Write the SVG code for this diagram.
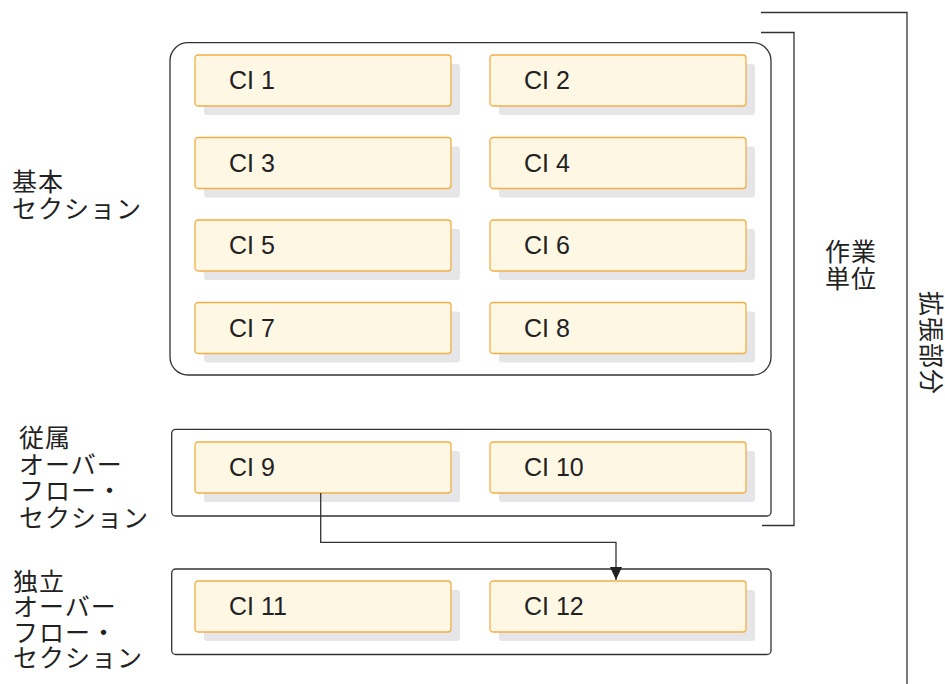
<svg xmlns="http://www.w3.org/2000/svg" width="945" height="684" viewBox="0 0 945 684">
<style>
.shadow{fill:#e6e6e8;}
.ci{fill:#fef7e4;stroke:#f3ae48;stroke-width:1.3;}
.cit{font-family:"Liberation Sans",Arial,sans-serif;font-size:25px;fill:#222;}
.jp{font-family:"Noto Sans CJK JP","Noto Sans CJK SC",sans-serif;font-size:25px;fill:#222;letter-spacing:1px;}
.sec{fill:#fff;stroke:#333;stroke-width:1.3;}
.line{fill:none;stroke:#333;stroke-width:1.3;}
</style>
<defs>
<marker id="arr" viewBox="0 0 13 12" markerWidth="13" markerHeight="12" refX="13" refY="6" orient="auto" markerUnits="userSpaceOnUse">
<path d="M0,0 L13,6 L0,12 Z" fill="#222"/>
</marker>
<g id="cibox">
<rect class="shadow" x="9" y="9" width="256" height="51" rx="3"/>
<rect class="ci" x="0" y="0" width="256" height="51" rx="3"/>
</g>
</defs>
<rect width="945" height="684" fill="#fff"/>

<g id="section-basic">
<rect class="sec" x="170" y="42.7" width="601" height="332.3" rx="18"/>
</g>
<g id="section-dependent">
<rect class="sec" x="171.7" y="429.3" width="599.3" height="86.7" rx="4"/>
</g>
<g id="section-independent">
<rect class="sec" x="171.7" y="569" width="599.3" height="85.5" rx="4"/>
</g>

<g id="ci1"><use href="#cibox" x="195" y="55"/><text class="cit" x="229" y="89">CI 1</text></g>
<g id="ci2"><use href="#cibox" x="490" y="55"/><text class="cit" x="524" y="89">CI 2</text></g>
<g id="ci3"><use href="#cibox" x="195" y="137.5"/><text class="cit" x="229" y="171.5">CI 3</text></g>
<g id="ci4"><use href="#cibox" x="490" y="137.5"/><text class="cit" x="524" y="171.5">CI 4</text></g>
<g id="ci5"><use href="#cibox" x="195" y="220"/><text class="cit" x="229" y="254">CI 5</text></g>
<g id="ci6"><use href="#cibox" x="490" y="220"/><text class="cit" x="524" y="254">CI 6</text></g>
<g id="ci7"><use href="#cibox" x="195" y="302.5"/><text class="cit" x="229" y="336.5">CI 7</text></g>
<g id="ci8"><use href="#cibox" x="490" y="302.5"/><text class="cit" x="524" y="336.5">CI 8</text></g>
<g id="ci9"><use href="#cibox" x="195" y="442"/><text class="cit" x="229" y="476">CI 9</text></g>
<g id="ci10"><use href="#cibox" x="490" y="442"/><text class="cit" x="524" y="476">CI 10</text></g>
<g id="ci11"><use href="#cibox" x="195" y="581"/><text class="cit" x="229" y="615">CI 11</text></g>
<g id="ci12"><use href="#cibox" x="490" y="581"/><text class="cit" x="524" y="615">CI 12</text></g>

<g id="connectors">
<path class="line" d="M320.7,493 V542.3 H616 V580" marker-end="url(#arr)"/>
<path class="line" d="M761,32.5 H794 V525.5 H762"/>
<path class="line" d="M761,12.5 H907 V684"/>
</g>

<g id="label-basic">
<text class="jp" x="12" y="191">基本</text>
<text class="jp" x="12" y="218">セクション</text>
</g>
<g id="label-dependent">
<text class="jp" x="19" y="447">従属</text>
<text class="jp" x="19" y="473.5">オーバー</text>
<text class="jp" x="19" y="500">フロー・</text>
<text class="jp" x="19" y="526.5">セクション</text>
</g>
<g id="label-independent">
<text class="jp" x="13" y="591">独立</text>
<text class="jp" x="13" y="616.3">オーバー</text>
<text class="jp" x="13" y="641.6">フロー・</text>
<text class="jp" x="13" y="667">セクション</text>
</g>
<g id="label-unit">
<text class="jp" x="825" y="261">作業</text>
<text class="jp" x="825" y="288">単位</text>
</g>
<g id="label-extension">
<text class="jp" transform="translate(922,291) rotate(90)" x="0" y="0">拡張部分</text>
</g>
</svg>
